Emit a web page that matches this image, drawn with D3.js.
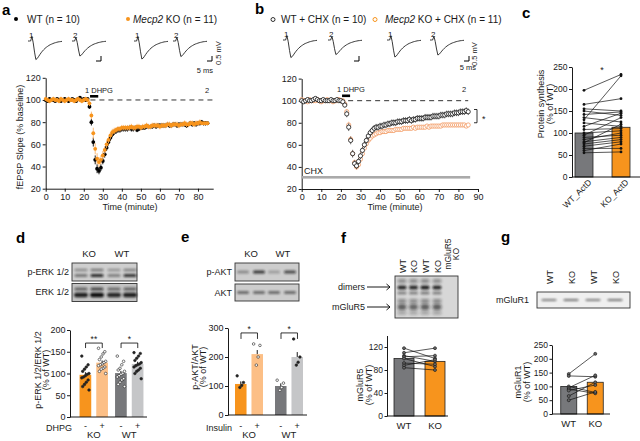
<!DOCTYPE html>
<html><head><meta charset="utf-8">
<script src="https://cdn.jsdelivr.net/npm/d3@7"></script>
<style>body{margin:0;background:#fff}svg{display:block}</style>
</head><body><script>
// ---------------- DATA ----------------
const minutes = d3.range(0, 86);
const wtA = [100,99,101,100,100,99,101,100,99,100,101,100,99,100,101,100,99,101,102,100,101,100,101,
 94,80,62,46,38,36,39,45,51,57,62,66,69,71,72,73,73,74,74,74,74,75,74,74,75,73,74,75,75,75,76,76,76,76,77,76,77,77,77,77,77,78,77,77,78,78,77,78,78,78,78,77,78,79,78,79,78,79,79,80,79,79,79];
const koA = [101,100,99,100,101,100,100,99,101,100,99,100,101,100,100,99,100,101,100,99,100,101,100,
 97,86,70,56,47,44,46,50,55,60,64,68,71,72,73,74,74,75,75,75,75,75,76,75,75,76,76,75,76,76,77,76,76,77,77,77,77,76,77,77,77,78,78,77,78,78,78,77,78,78,79,78,78,79,79,78,79,79,80,79,79,79,79];
const semWtA = [1.5,1.5,1.5,1.5,1.5,1.5,1.5,1.5,1.5,1.5,1.5,1.5,1.5,1.5,1.5,1.5,1.5,1.5,1.5,1.5,1.5,1.5,1.5,
 2,3,4,4,4,3,3,3,3,3,3,3,2.5,2.5,2.5,2.5,2.5,2.5,2.5,2.5,2.5,2.5,2.5,2.5,2,2,2,2,2,2,2,2,2,2,2,2,2,2,2,2,2,2,2,2,2,2,2,2,2,2,2,2,2,2,2,2,2,2,2,2,2,2];
const semKoA = [2,2,2,2,2,2,2,2,2,2,2,2,2,2,2,2,2,2,2,2,2,2,2,
 2.5,3.5,5,5,5,4.5,4,4,3.5,3.5,3,3,3,3,2.5,2.5,2.5,2.5,2.5,2.5,2.5,2.5,2.5,2.5,2.5,2.5,2.5,2.5,2.5,2.5,2.5,2.5,2.5,2.5,2.5,2.5,2.5,2.5,2.5,2.5,2.5,2.5,2.5,2.5,2.5,2.5,2.5,2.5,2.5,2.5,2.5,2.5,2.5,2.5,2.5,2.5,2.5,2.5,2.5];
const wtB = [100,99,100,101,100,100,101,102,101,100,100,101,100,100,100,101,100,100,101,100,100,99,
 96,88,76,64,52,43,41,45,50,55,60,64,68,71,73,75,76,76,77,77,78,78,79,79,80,80,80,81,81,81,82,82,82,83,82,83,83,84,84,84,84,85,85,85,85,86,86,86,86,87,87,87,88,88,88,88,89,89,89,90,90,90,91,90];
const koB = [101,100,100,99,101,100,100,100,101,100,99,100,100,101,100,100,99,100,100,101,100,100,
 97,90,78,65,52,44,40,42,47,52,57,61,64,66,68,69,70,71,71,72,72,72,73,73,73,73,74,74,74,74,75,75,75,75,75,76,75,76,76,76,76,76,77,76,77,77,77,77,77,77,78,78,78,78,78,78,78,78,78,78,78,78,77,78];
const semWtB = [1.5,1.5,1.5,1.5,1.5,1.5,1.5,1.5,1.5,1.5,1.5,1.5,1.5,1.5,1.5,1.5,1.5,1.5,1.5,1.5,1.5,1.5,
 2,3,3.5,3.5,3.5,3,3,3,3,3,3,3,3,3,3,3,3,3,3,3,3,3,3,3,3,3,3,3,3,3,3,3,3,3,3,3,3,3,3,3,3,3,3,3,3,3,3,3,3,3,3,3,3,3,3,3,3,3,3,3,3,3,3,3];
const semKoB = [1.5,1.5,1.5,1.5,1.5,1.5,1.5,1.5,1.5,1.5,1.5,1.5,1.5,1.5,1.5,1.5,1.5,1.5,1.5,1.5,1.5,1.5,
 2,2.5,3,3,3,2.5,2.5,2.5,2.5,2.5,2,2,2,2,2,2,2,2,2,2,2,2,2,2,2,2,2,2,2,2,2,2,2,2,2,2,2,2,2,2,2,2,2,2,2,2,2,2,2,2,2,2,2,2,2,2,2,2,2,2,2,2];
const timeTicksA = [0,10,20,30,40,50,60,70,80];
const timeTicksB = [0,10,20,30,40,50,60,70,80,90];
const slopeTicks = [20,40,60,80,100,120];
// example EPSP trace (mV)
const traceShape = [0,0,0,0.25,-0.1,-0.6,-1.0,-0.95,-0.85,-0.74,-0.64,-0.55,-0.47,-0.40,-0.34,-0.29,-0.24,-0.20,-0.17,-0.14,-0.11,-0.09,-0.07,-0.05,-0.04,-0.03,-0.02];
const traceAmpA = [1.85,1.5,1.8,1.55];
const traceAmpB = [1.75,1.45,1.7,1.5];
// panel c
const cGroups = ["WT_ActD","KO_ActD"];
const cMeans = [100,113];
const cWT = [197,165,155,150,142,135,130,123,115,108,100,95,90,85,80,78,75,70,65,60,55];
const cKO = [233,178,150,140,148,125,230,115,145,110,105,135,95,100,90,120,85,80,65,75,57];
const cTicks = [0,50,100,150,200,250];
// panel d
const genotypes = ["KO","WT"];
const treat = ["-","+"];
const dMeans = [97,125,101,122];
const dSem = [6,5,5,5];
const dKOm = [140,120,115,110,105,100,98,95,92,90,85,80,75,70,62];
const dKOp = [158,150,145,138,132,128,125,122,120,118,115,112,110,105,100];
const dWTm = [140,128,120,112,108,105,100,98,95,92,88,85,80,75,70];
const dWTp = [148,146,140,135,130,125,122,120,118,115,112,108,105,100,88];
const dTicks = [0,50,100,150,200];
const pErkUpper = [0.35,0.45,0.3,0.4];
const pErkLower = [0.45,0.85,0.4,0.8];
const erkUpper = [0.55,0.7,0.5,0.55];
const erkLower = [0.9,1,0.85,0.9];
// panel e
const eMeans = [107,210,100,200];
const eSem = [9,14,9,17];
const eKOm = [135,112,102,95];
const eKOp = [245,240,200,172];
const eWTm = [120,110,95,85];
const eWTp = [262,200,182,172];
const eTicks = [0,100,200,300];
const pAkt = [0.35,0.8,0.25,0.7];
const akt = [0.6,0.6,0.6,0.6];
// panel f
const fGroups = ["WT","KO"];
const fMeans = [100,95];
const fWT = [118,110,105,103,100,92,88,84];
const fKO = [100,118,95,105,86,90,98,80];
const fTicks = [0,40,80,120];
const fLanes = ["WT","KO","WT","KO","mGluR5 KO"];
const fDimer = [0.85,0.85,0.9,0.85,0];
const fMono = [0.75,0.7,0.75,0.75,0];
// panel g
const gMeans = [100,115];
const gWT = [145,138,100,95,90,85,65,50];
const gKO = [218,135,78,140,75,105,115,80];
const gTicks = [0,50,100,150,200,250];
const gLanes = ["WT","KO","WT","KO"];
const mGluR1 = [0.5,0.55,0.5,0.55];

// ---------------- DRAW ----------------
const FONT = '"Liberation Sans", Arial, Helvetica, sans-serif';
const ORANGE = "#f7941d", LORANGE = "#fcbf86", DGRAY = "#77787b", LGRAY = "#c5c6c8";
const TXT = "#1a1a1a";
const svg = d3.select("body").append("svg").attr("width",640).attr("height",441)
  .style("font-family",FONT);
svg.append("rect").attr("width",640).attr("height",441).attr("fill","#fff");
const defs = svg.append("defs");
defs.append("filter").attr("id","blur").attr("x","-50%").attr("y","-200%").attr("width","200%").attr("height","500%")
  .append("feGaussianBlur").attr("stdDeviation",0.9);
defs.append("filter").attr("id","blur2").attr("x","-50%").attr("y","-100%").attr("width","200%").attr("height","300%")
  .append("feGaussianBlur").attr("stdDeviation",1.4);

function T(x,y,t,fs,opt={}) {
  const s = svg.append("text").attr("x",x).attr("y",y).attr("font-size",fs).attr("fill",opt.fill||TXT)
    .attr("text-anchor",opt.anchor||"start").text(t);
  if (opt.bold) s.attr("font-weight","bold");
  if (opt.rot) s.attr("transform",`rotate(${opt.rot},${x},${y})`);
  if (opt.italic) s.attr("font-style","italic");
  return s;
}
function axisStyle(sel, fs) {
  sel.select(".domain").attr("stroke","#000").attr("stroke-width",0.9);
  sel.selectAll(".tick line").attr("stroke","#000").attr("stroke-width",0.9);
  sel.selectAll(".tick text").attr("font-size",fs).attr("font-family",FONT).attr("fill",TXT);
}
function line(x1,y1,x2,y2,st="#000",w=0.9,dash=null){
  const l = svg.append("line").attr("x1",x1).attr("y1",y1).attr("x2",x2).attr("y2",y2)
    .attr("stroke",st).attr("stroke-width",w);
  if (dash) l.attr("stroke-dasharray",dash);
  return l;
}

// panel letters
T(2,15,"a",15,{bold:true,fill:"#000"}); T(255,14,"b",15,{bold:true,fill:"#000"}); T(522,18,"c",15,{bold:true,fill:"#000"});
T(16,243,"d",15,{bold:true,fill:"#000"}); T(181,242,"e",15,{bold:true,fill:"#000"}); T(341,243,"f",15,{bold:true,fill:"#000"}); T(501,242,"g",15,{bold:true,fill:"#000"});

// ---- traces ----
const trX = d3.scaleLinear().domain([0,traceShape.length-1]).range([0,34]);
const trY = d3.scaleLinear().domain([-1,0]).range([10,0]);
function drawTrace(x0,y0,amp,lab){
  const ln = d3.line().x((d,i)=>x0+trX(i)).y(d=>y0+trY(d*amp));
  svg.append("path").attr("d",ln(traceShape)).attr("fill","none").attr("stroke","#222").attr("stroke-width",0.9);
  T(x0+1,y0-3,lab,8);
}
function scaleBar(x,y){ line(x-5,y,x,y,"#000",1); line(x,y-5,x,y,"#000",1); }

// legend a
svg.append("circle").attr("cx",16).attr("cy",19).attr("r",2).attr("fill","#000");
T(27,22.5,"WT (n = 10)",10);
svg.append("circle").attr("cx",128).attr("cy",19).attr("r",2).attr("fill",ORANGE);
const lk = T(133,22.5,"",10); lk.append("tspan").attr("font-style","italic").text("Mecp2"); lk.append("tspan").text(" KO (n = 11)");
[28,72,134,173].forEach((x,i)=>drawTrace(x,41,traceAmpA[i],i%2?"2":"1"));
scaleBar(101,61); scaleBar(212,61);
T(205,73,"5 ms",7.5,{anchor:"middle"}); T(221,53,"0.5 mV",7.5,{anchor:"middle",rot:-90});

// legend b
svg.append("circle").attr("cx",273).attr("cy",19.5).attr("r",2).attr("fill","none").attr("stroke","#000").attr("stroke-width",0.8);
T(281,23,"WT + CHX (n = 10)",10);
svg.append("circle").attr("cx",375).attr("cy",19.5).attr("r",2).attr("fill","none").attr("stroke",ORANGE).attr("stroke-width",1);
const lk2 = T(385,23,"",10); lk2.append("tspan").attr("font-style","italic").text("Mecp2"); lk2.append("tspan").text(" KO + CHX (n = 11)");
[283,328,387,430].forEach((x,i)=>drawTrace(x,40,traceAmpB[i],i%2?"2":"1"));
scaleBar(359,61); scaleBar(469,61);
T(468,70,"5 ms",7.5,{anchor:"middle"}); T(477,54,"0.5 mV",7.5,{anchor:"middle",rot:-90});

// ---- panel a plot ----
const xA = d3.scaleLinear().domain([0,88]).range([45.7,213.2]);
const yA = d3.scaleLinear().domain([20,120]).range([188.7,77.8]);
svg.append("g").attr("transform",`translate(0,${yA(20)})`)
  .call(d3.axisBottom(xA).tickValues(timeTicksA).tickSize(3).tickSizeOuter(0).tickPadding(1.5)).call(axisStyle,9);
svg.append("g").attr("transform",`translate(${xA(0)},0)`)
  .call(d3.axisLeft(yA).tickValues(slopeTicks).tickSize(3).tickSizeOuter(0).tickPadding(2)).call(axisStyle,9);
T(130,210,"Time (minute)",9,{anchor:"middle"});
T(23,137,"fEPSP Slope (% baseline)",9,{anchor:"middle",rot:-90});
line(xA(23.5),yA(100),xA(88),yA(100),"#333",1,"5,4");
svg.append("rect").attr("x",xA(23.3)).attr("y",95).attr("width",xA(27.6)-xA(23.3)).attr("height",2.6).attr("fill","#000");
T(85,93,"1 DHPG",7.5); T(205,93,"2",7.5);
function series(xs,ys,vals,sem,col,ecol,open){
  const g = svg.append("g");
  g.selectAll("line").data(vals).join("line")
    .attr("x1",(d,i)=>xs(minutes[i])).attr("x2",(d,i)=>xs(minutes[i]))
    .attr("y1",(d,i)=>ys(d-sem[i])).attr("y2",(d,i)=>ys(d+sem[i]))
    .attr("stroke",ecol).attr("stroke-width",0.9);
  g.selectAll("circle").data(vals).join("circle")
    .attr("cx",(d,i)=>xs(minutes[i])).attr("cy",d=>ys(d)).attr("r",open?2.1:1.9)
    .attr("fill",open?"#fff":col).attr("stroke",open?col:"none").attr("stroke-width",0.8);
}
series(xA,yA,wtA,semWtA,"#000","#000",false);
series(xA,yA,koA,semKoA,ORANGE,"#f9b36b",false);

// ---- panel b plot ----
const xB = d3.scaleLinear().domain([0,90]).range([301.7,478]);
const yB = d3.scaleLinear().domain([20,120]).range([189,78.6]);
svg.append("g").attr("transform",`translate(0,${yB(20)})`)
  .call(d3.axisBottom(xB).tickValues(timeTicksB).tickSize(3).tickSizeOuter(0).tickPadding(1.5)).call(axisStyle,9);
svg.append("g").attr("transform",`translate(${xB(0)},0)`)
  .call(d3.axisLeft(yB).tickValues(slopeTicks).tickSize(3).tickSizeOuter(0).tickPadding(2)).call(axisStyle,9);
T(395,210,"Time (minute)",9,{anchor:"middle"});
line(xB(23.7),yB(100),xB(85),yB(100),"#333",1,"5,4");
svg.append("rect").attr("x",xB(20.6)).attr("y",94.5).attr("width",xB(24.7)-xB(20.6)).attr("height",2.6).attr("fill","#000");
T(337,92,"1 DHPG",7.5); T(462,92,"2",7.5);
svg.append("rect").attr("x",xB(0)).attr("y",176).attr("width",xB(86)-xB(0)).attr("height",2.6).attr("fill","#aaa");
T(304,174,"CHX",9);
series(xB,yB,koB,semKoB,"#f29a63","#f7c39e",true);
series(xB,yB,wtB,semWtB,"#111","#555",true);
// significance bracket
line(477,yB(92),477,yB(80),"#000",0.8); line(474,yB(92),477,yB(92),"#000",0.8); line(474,yB(80),477,yB(80),"#000",0.8);
T(482,122,"*",9);

// ---- panel c ----
const xC = d3.scaleBand().domain(cGroups).range([572,633]).paddingInner(0.514).paddingOuter(0.081);
const yC = d3.scaleLinear().domain([0,250]).range([177,67]);
svg.append("g").selectAll("rect").data(cMeans).join("rect")
  .attr("x",(d,i)=>xC(cGroups[i])).attr("y",d=>yC(d)).attr("width",xC.bandwidth()).attr("height",d=>yC(0)-yC(d))
  .attr("fill",(d,i)=>i?ORANGE:DGRAY).attr("stroke","#222").attr("stroke-width",0.8);
const cx0 = xC(cGroups[0])+xC.bandwidth()/2, cx1 = xC(cGroups[1])+xC.bandwidth()/2;
svg.append("g").selectAll("line").data(cWT).join("line")
  .attr("x1",cx0).attr("x2",cx1).attr("y1",d=>yC(d)).attr("y2",(d,i)=>yC(cKO[i])).attr("stroke","#111").attr("stroke-width",0.7);
svg.append("g").selectAll("circle").data(cWT.concat(cKO)).join("circle")
  .attr("cx",(d,i)=>i<cWT.length?cx0:cx1).attr("cy",d=>yC(d)).attr("r",1.4).attr("fill","#111");
svg.append("g").attr("transform",`translate(0,${yC(0)})`)
  .call(d3.axisBottom(xC).tickSize(0).tickFormat("")).call(axisStyle,9)
  .select(".domain").attr("d","M572,0H640");
svg.append("g").attr("transform","translate(572,0)")
  .call(d3.axisLeft(yC).tickValues(cTicks).tickSize(3).tickSizeOuter(0).tickPadding(1.5)).call(axisStyle,8.5);
cGroups.forEach((g,i)=>T(xC(g)+xC.bandwidth()-1,183,g,8.5,{anchor:"end",rot:-45}));
T(544,104,"Protein synthesis",9,{anchor:"middle",rot:-90});
T(553,104,"(% of WT)",9,{anchor:"middle",rot:-90});
T(602,73,"*",9,{anchor:"middle"});

// ---- blots ----
function blotStrip(x,y,w,h,bg){ svg.append("rect").attr("x",x).attr("y",y).attr("width",w).attr("height",h).attr("fill",bg).attr("stroke","#333").attr("stroke-width",0.9); }
function band(cx,cy,w,h,op,flt="blur"){ svg.append("rect").attr("x",cx-w/2).attr("y",cy-h/2).attr("width",w).attr("height",h).attr("rx",h/2)
  .attr("fill","#111").attr("opacity",op).attr("filter",`url(#${flt})`); }
// d blot
blotStrip(72,263,65,18,"#cfcfcf"); blotStrip(72,283.5,65,18,"#c4c4c4");
const dLaneX = [81,97,114,130];
dLaneX.forEach((x,i)=>{ band(x,270,13,2.5,pErkUpper[i]); band(x,275.5,13,3,pErkLower[i]);
  band(x,289,13,3,erkUpper[i]); band(x,295,14,4.5,erkLower[i]); });
T(89,257,"KO",9.5,{anchor:"middle"}); T(122,257,"WT",9.5,{anchor:"middle"});
T(69,275,"p-ERK 1/2",9,{anchor:"end"}); T(69,295,"ERK 1/2",9,{anchor:"end"});
// e blot
blotStrip(235,263,64,18,"#cdcdcd"); blotStrip(235,284,64,17,"#cdcdcd");
const eLaneX = [243,259,274,290];
eLaneX.forEach((x,i)=>{ band(x,272,12,3,pAkt[i]); band(x,292.5,12,2.5,akt[i]); });
T(251,257,"KO",9.5,{anchor:"middle"}); T(283,257,"WT",9.5,{anchor:"middle"});
T(232,275,"p-AKT",9,{anchor:"end"}); T(232,296,"AKT",9,{anchor:"end"});
// f blot
blotStrip(395,276,63,42,"#d7d7d7");
const fLaneX = [402,413.5,425,437,449];
fLaneX.forEach((x,i)=>{ if(!fDimer[i]) return;
  band(x,281,9,4,fDimer[i]*0.45,"blur2"); band(x,287.5,9,4,fDimer[i]); band(x,293,9,3,fDimer[i]*0.5);
  band(x,301,9,4,fMono[i]*0.55,"blur2"); band(x,307,9,6,fMono[i]*0.8,"blur2"); band(x,313,9,3,fMono[i]*0.4,"blur2"); });
fLanes.slice(0,4).forEach((l,i)=>T(fLaneX[i]+3.5,273,l,9,{rot:-90}));
T(451,254,"mGluR5",8.5,{anchor:"middle",rot:-90}); T(459,254,"KO",8.5,{anchor:"middle",rot:-90});
T(365,290,"dimers",9,{anchor:"end"}); T(365,310,"mGluR5",9,{anchor:"end"});
function arrow(x1,x2,y){ line(x1,y,x2,y,"#000",0.9);
  svg.append("path").attr("d",`M${x2-3.5},${y-3}L${x2},${y}L${x2-3.5},${y+3}`).attr("fill","none").attr("stroke","#000").attr("stroke-width",0.9); }
arrow(367,390,287); arrow(367,390,307);
// g blot
blotStrip(537,292,93,16,"#efefef");
const gLaneX = [549,571,593,615];
gLaneX.forEach((x,i)=>band(x,300,15,1.8,mGluR1[i]));
gLanes.forEach((l,i)=>T(gLaneX[i]+3.5,284,l,9,{rot:-90}));
T(529,303,"mGluR1",9,{anchor:"end"});

// ---- grouped bar helper (d, e) ----
function grouped(range, yS, means, sem, pts, ticks, axisX, axisEnd, treatLabel, lblX){
  const outer = d3.scaleBand().domain(genotypes).range(range).paddingInner(range[2]).paddingOuter(range[3]);
  const inner = d3.scaleBand().domain(treat).range([0,outer.bandwidth()]).paddingInner(0.3);
  const fills = [ORANGE,LORANGE,DGRAY,LGRAY];
  const pos = [];
  genotypes.forEach(g=>treat.forEach(t=>pos.push(outer(g)+inner(t))));
  svg.append("g").selectAll("rect").data(means).join("rect")
    .attr("x",(d,i)=>pos[i]).attr("y",d=>yS(d)).attr("width",inner.bandwidth()).attr("height",d=>yS(0)-yS(d))
    .attr("fill",(d,i)=>fills[i]);
  svg.append("g").selectAll("line").data(means).join("line")
    .attr("x1",(d,i)=>pos[i]+inner.bandwidth()/2).attr("x2",(d,i)=>pos[i]+inner.bandwidth()/2)
    .attr("y1",d=>yS(d)).attr("y2",(d,i)=>yS(d+sem[i])).attr("stroke","#000").attr("stroke-width",0.9);
  pts.forEach((arr,k)=>{
    const cx = pos[k]+inner.bandwidth()/2;
    svg.append("g").selectAll("circle").data(arr).join("circle")
      .attr("cx",(d,i)=>cx+((i*7)%9-4)*0.9).attr("cy",d=>yS(d)).attr("r",1.3)
      .attr("fill",k%3===0?"#222":"#fff").attr("stroke","#222").attr("stroke-width",0.6);
  });
  svg.append("g").attr("transform",`translate(0,${yS(0)})`)
    .call(d3.axisBottom(outer).tickSize(0).tickFormat("")).call(axisStyle,9)
    .select(".domain").attr("d",`M${axisX},0H${axisEnd}`);
  svg.append("g").attr("transform",`translate(${axisX},0)`)
    .call(d3.axisLeft(yS).tickValues(ticks).tickSize(3).tickSizeOuter(0).tickPadding(1.5)).call(axisStyle,9);
  genotypes.forEach((g,gi)=>{
    treat.forEach((t,ti)=>T(outer(g)+inner(t)+inner.bandwidth()/2,428.5,t,9,{anchor:"middle"}));
    T(outer(g)+outer.bandwidth()/2,438,g,9.5,{anchor:"middle"});
  });
  T(lblX,431,treatLabel,9,{anchor:"end"});
  return {outer,inner,pos};
}
// d
const yD = d3.scaleLinear().domain([0,200]).range([417,330]);
const dRes = grouped([76,147,0.2,0.1], yD, dMeans, dSem, [dKOm,dKOp,dWTm,dWTp], dTicks, 70, 147, "DHPG", 72);
T(41,370,"p-ERK 1/2/ERK 1/2",9,{anchor:"middle",rot:-90});
T(49,370,"(% of WT)",9,{anchor:"middle",rot:-90});
function bracket(x1,x2,y,drop,lab){
  svg.append("path").attr("d",`M${x1},${y+drop}V${y}H${x2}V${y+drop}`).attr("fill","none").attr("stroke","#000").attr("stroke-width",0.8);
  T((x1+x2)/2,y-1,lab,8.5,{anchor:"middle"});
}
bracket(dRes.pos[0]+6,dRes.pos[1]+6,yD(170),5,"**");
bracket(dRes.pos[2]+6,dRes.pos[3]+6,yD(170),5,"*");
// e
const yE = d3.scaleLinear().domain([0,300]).range([415,328]);
const eRes = grouped([229,309,0.3,0.15], yE, eMeans, eSem, [eKOm,eKOp,eWTm,eWTp], eTicks, 228, 307, "Insulin", 232);
T(198,367,"p-AKT/AKT",9,{anchor:"middle",rot:-90});
T(206,367,"(% of WT)",9,{anchor:"middle",rot:-90});
bracket(eRes.pos[0]+6,eRes.pos[1]+6,yE(283),6,"*");
bracket(eRes.pos[2]+6,eRes.pos[3]+6,yE(283),6,"*");

// ---- paired bar helper (f, g) ----
function paired(range, pi, po, yS, means, wt, ko, ticks, axisX, axisEnd){
  const xs = d3.scaleBand().domain(fGroups).range(range).paddingInner(pi).paddingOuter(po);
  svg.append("g").selectAll("rect").data(means).join("rect")
    .attr("x",(d,i)=>xs(fGroups[i])).attr("y",d=>yS(d)).attr("width",xs.bandwidth()).attr("height",d=>yS(0)-yS(d))
    .attr("fill",(d,i)=>i?ORANGE:DGRAY).attr("stroke","#222").attr("stroke-width",0.8);
  const a = xs("WT")+xs.bandwidth()/2, b = xs("KO")+xs.bandwidth()/2;
  svg.append("g").selectAll("line").data(wt).join("line")
    .attr("x1",a).attr("x2",b).attr("y1",d=>yS(d)).attr("y2",(d,i)=>yS(ko[i])).attr("stroke","#111").attr("stroke-width",0.7);
  svg.append("g").selectAll("circle").data(wt.concat(ko)).join("circle")
    .attr("cx",(d,i)=>i<wt.length?a:b).attr("cy",d=>yS(d)).attr("r",1.5).attr("fill","#666").attr("stroke","#111").attr("stroke-width",0.6);
  svg.append("g").attr("transform",`translate(0,${yS(0)})`)
    .call(d3.axisBottom(xs).tickSize(0).tickPadding(6)).call(axisStyle,9.5)
    .select(".domain").attr("d",`M${axisX},0H${axisEnd}`);
  svg.append("g").attr("transform",`translate(${axisX},0)`)
    .call(d3.axisLeft(yS).tickValues(ticks).tickSize(2.5).tickSizeOuter(0).tickPadding(1.5)).call(axisStyle,8.5);
}
const yF = d3.scaleLinear().domain([0,140]).range([416,335.5]);
paired([387,452],0.355,0.226,yF,fMeans,fWT,fKO,fTicks,387,448);
T(363,385,"mGluR5",9,{anchor:"middle",rot:-90});
T(372,385,"(% of WT)",9,{anchor:"middle",rot:-90});
const yG = d3.scaleLinear().domain([0,250]).range([414,345]);
paired([552,612],0.396,0.33,yG,gMeans,gWT,gKO,gTicks,552,610);
T(521,382,"mGluR1",9,{anchor:"middle",rot:-90});
T(530,382,"(% of WT)",9,{anchor:"middle",rot:-90});
</script></body></html>
